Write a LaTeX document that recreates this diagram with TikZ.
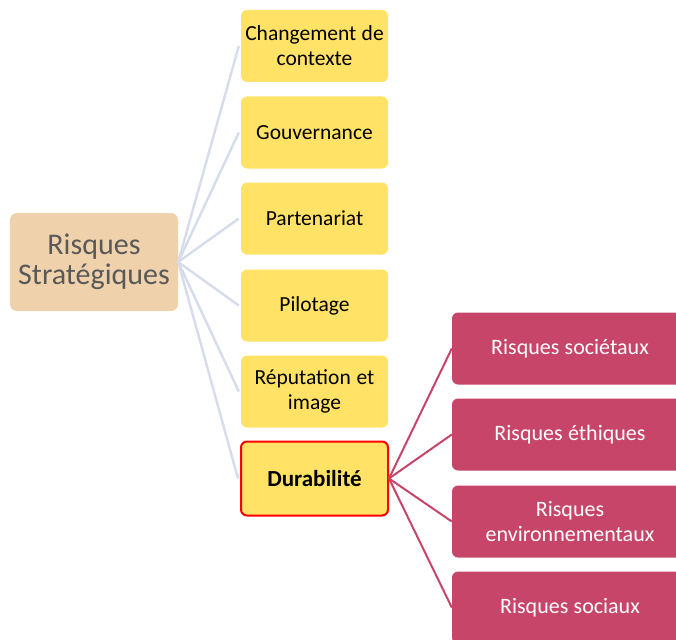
\documentclass[tikz,border=0pt]{standalone}
\usepackage{fontspec}
\setmainfont{Carlito}
\usetikzlibrary{positioning}

\definecolor{rootfill}{RGB}{239,210,172}
\definecolor{rootText}{RGB}{89,89,89}
\definecolor{leaffill}{RGB}{255,226,102}
\definecolor{subfill}{RGB}{199,69,104}
\definecolor{linkgray}{RGB}{214,220,235}

\tikzset{
	tightwords/.style={execute at begin node={\spaceskip=0.24em plus 0.1em\relax}},
	rootbox/.style={fill=rootfill, rounded corners=7pt, minimum width=168pt, minimum height=98pt,
		align=center, text=rootText, font=\fontsize{30}{30}\selectfont, inner sep=0pt, tightwords},
	leafbox/.style={fill=leaffill, rounded corners=6pt, minimum width=147pt, minimum height=72pt,
		align=center, text=black, font=\fontsize{21.5}{25}\selectfont, inner sep=0pt, text width=145pt, tightwords},
	subbox/.style={fill=subfill, rounded corners=6pt, minimum width=250pt, minimum height=72pt,
		align=center, text=white, font=\fontsize{22}{25}\selectfont, inner sep=0pt, tightwords},
	graylink/.style={draw=linkgray, line width=2.4pt},
	redlink/.style={draw=subfill, line width=2pt},
}

\begin{document}
\begin{tikzpicture}[x=1pt, y=-1pt]

\def\width{676}
\def\height{639}
\def\lx{314.5}
\def\sx{577}

\path [use as bounding box] (0,0) rectangle (\width,\height);
\clip (0,0) rectangle (\width,\height);

% ROOT
\node [rootbox] (root) at (94,262) {Risques\\Stratégiques};

% LEAVES
\node [leafbox] (contexte) at (\lx,46) {Changement de\\contexte};
\node [leafbox] (gouv) at (\lx,132.5) {Gouvernance};
\node [leafbox] (part) at (\lx,218.5) {Partenariat};
\node [leafbox] (pilot) at (\lx,305.5) {Pilotage};
\node [leafbox] (repu) at (\lx,391.5) {Réputation et\\image};
\node [leafbox, draw=red, line width=2pt, minimum height=74pt] (durab) at (\lx,478.5) {\fontsize{23}{25}\selectfont\textbf{Durabilité}};

% SUB RISKS
\node [subbox] (soc) at (\sx,348.5) {\hspace*{-14pt}Risques sociétaux};
\node [subbox] (ethi) at (\sx,434.5) {\hspace*{-14pt}Risques éthiques};
\node [subbox] (envi) at (\sx,521.5) {\hspace*{-14pt}Risques\\\hspace*{-14pt}environnementaux};
\node [subbox] (soci) at (\sx,607.5) {\hspace*{-14pt}Risques sociaux};

% LINKS
\foreach \n in {contexte,gouv,part,pilot,repu,durab}
	\draw [graylink] (root.east) -- ([xshift=-2pt]\n.west);
\foreach \n in {soc,ethi,envi,soci}
	\draw [redlink] (durab.east) -- (\n.west);

\end{tikzpicture}
\end{document}
